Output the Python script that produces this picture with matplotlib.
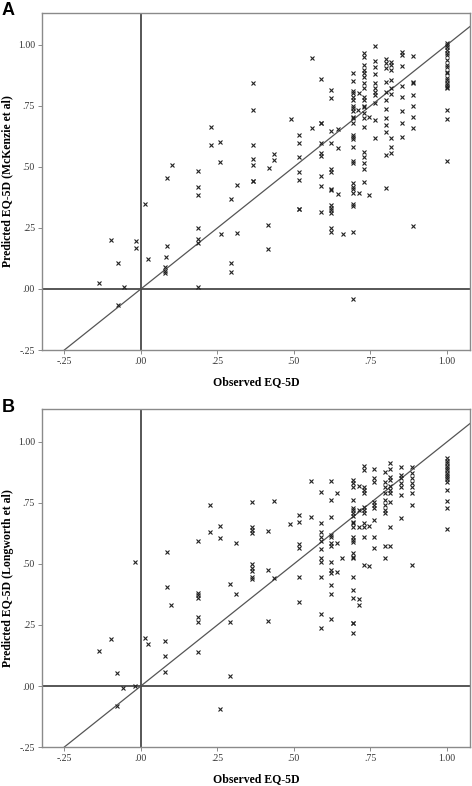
import matplotlib
matplotlib.use("Agg")

import matplotlib.pyplot as plt
import matplotlib as mpl
from matplotlib.ticker import FixedLocator, FuncFormatter

# =========================================================
# 0) data (read off the figure)
# =========================================================
# Panel A - McKenzie et al
obs_a = [
    0.558, 0.365, 0.365, 0.229, 0.229, 0.26, 0.26, 0.365, 0.365, 0.365, 0.365, 0.365,
    0.418, 0.435, 0.435, 0.49, 0.517, 0.517, 0.517, 0.517, 0.517, 0.558,
    0.589, 0.589, 0.589, 0.589, 0.589, 0.589, 0.589, 0.589,
    0.623, 0.623, 0.623, 0.623, 0.623, 0.623, 0.623, 0.623, 0.643, 0.643, 0.643,
    0.692, 0.692, 0.692, 0.692, 0.692, 0.692, 0.692, 0.692, 0.692, 0.692, 0.692, 0.692, 0.692,
    0.692, 0.692, 0.692, 0.692, 0.692, 0.692, 0.692, 0.692, 0.692, 0.692, 0.692, 0.692, 0.692,
    0.708, 0.713, 0.713,
    0.73, 0.73, 0.73, 0.73, 0.73, 0.73, 0.73, 0.73, 0.73, 0.73,
    0.73, 0.73, 0.73, 0.73, 0.73, 0.73, 0.73, 0.73, 0.73, 0.73,
    0.746, 0.746,
    0.765, 0.765, 0.765, 0.765, 0.765, 0.765, 0.765, 0.765, 0.765, 0.765, 0.765,
    0.80, 0.80, 0.80, 0.80, 0.80, 0.80, 0.80, 0.80, 0.80, 0.80, 0.80, 0.80,
    0.817, 0.817, 0.817, 0.817, 0.817, 0.817, 0.817, 0.817, 0.817,
    0.852, 0.852, 0.852, 0.852, 0.852, 0.852, 0.852, 0.852,
    0.888, 0.888, 0.888, 0.888, 0.888, 0.888, 0.888, 0.888,
    1.0, 1.0, 1.0, 1.0, 1.0, 1.0, 1.0, 1.0, 1.0, 1.0,
    1.0, 1.0, 1.0, 1.0, 1.0, 1.0, 1.0, 1.0, 1.0, 1.0,
    0.087, 0.101, 0.187, 0.187, 0.187, 0.313, 0.293, 0.013, 0.187, 0.187, 0.187, 0.087,
    -0.096, -0.016, -0.016, 0.024, 0.082, 0.078, 0.078, 0.078, -0.074, -0.137, -0.056,
    -0.074, 0.187, 0.261, 0.313, 0.293, 0.293, 0.417, 0.417, 0.517, 0.517, 0.589,
    0.623, 0.623, 0.623, 0.623, 0.623, 0.623, 0.659,
]
pred_a = [
    0.945, 0.844, 0.734, 0.665, 0.589, 0.601, 0.52, 0.589, 0.534, 0.507, 0.443, 0.443,
    0.497, 0.552, 0.529, 0.698, 0.632, 0.597, 0.542, 0.481, 0.445, 0.661,
    0.859, 0.682, 0.682, 0.597, 0.556, 0.545, 0.463, 0.422,
    0.816, 0.784, 0.649, 0.597, 0.49, 0.48, 0.41, 0.405, 0.656, 0.579, 0.388,
    0.887, 0.851, 0.813, 0.802, 0.788, 0.775, 0.75, 0.74, 0.73, 0.706, 0.70, 0.682, 0.631,
    0.624, 0.613, 0.583, 0.523, 0.515, 0.433, 0.419, 0.409, 0.395, 0.348, 0.341, 0.232, -0.041,
    0.734, 0.805, 0.392,
    0.966, 0.952, 0.918, 0.898, 0.884, 0.87, 0.843, 0.823, 0.788, 0.775,
    0.75, 0.745, 0.723, 0.70, 0.665, 0.563, 0.542, 0.518, 0.49, 0.44,
    0.704, 0.385,
    0.997, 0.934, 0.911, 0.881, 0.846, 0.823, 0.809, 0.795, 0.761, 0.693, 0.618,
    0.941, 0.925, 0.905, 0.85, 0.809, 0.775, 0.736, 0.70, 0.672, 0.645, 0.549, 0.413,
    0.932, 0.918, 0.898, 0.857, 0.823, 0.798, 0.62, 0.583, 0.556,
    0.973, 0.959, 0.914, 0.832, 0.786, 0.73, 0.679, 0.624,
    0.955, 0.85, 0.843, 0.795, 0.751, 0.706, 0.661, 0.257,
    1.007, 1.0, 0.993, 0.98, 0.966, 0.959, 0.939, 0.918, 0.911, 0.891,
    0.884, 0.863, 0.857, 0.843, 0.836, 0.829, 0.823, 0.734, 0.697, 0.526,
    0.456, 0.507, 0.485, 0.417, 0.385, 0.425, 0.368, 0.347, 0.249, 0.204, 0.19, 0.176,
    0.202, 0.198, 0.169, 0.123, 0.13, 0.089, 0.075, 0.067, 0.107, 0.023, 0.008,
    -0.064, 0.007, 0.227, 0.228, 0.107, 0.07, 0.264, 0.165, 0.327, 0.327, 0.316,
    0.344, 0.331, 0.324, 0.31, 0.249, 0.235, 0.224,
]

# Panel B - Longworth et al
obs_b = [
    -0.018, 0.086, 0.186, 0.227, 0.227, 0.26, 0.26, 0.312, 0.364, 0.364, 0.364, 0.364,
    0.364, 0.364, 0.364, 0.364, 0.414, 0.414, 0.434, 0.434, 0.486, 0.517, 0.517, 0.517,
    0.517, 0.517, 0.556, 0.556,
    0.589, 0.589, 0.589, 0.589, 0.589, 0.589, 0.589, 0.589, 0.589,
    0.622, 0.622, 0.622, 0.622, 0.622, 0.622, 0.622, 0.622, 0.622, 0.622,
    0.641, 0.641, 0.641, 0.657,
    0.692, 0.692, 0.692, 0.692, 0.692, 0.692, 0.692, 0.692, 0.692, 0.692, 0.692, 0.692,
    0.692, 0.692, 0.692, 0.692, 0.692, 0.692, 0.692, 0.692, 0.692, 0.692, 0.692,
    0.712, 0.712, 0.712, 0.712, 0.712,
    0.728, 0.728, 0.728, 0.728, 0.728, 0.728, 0.728, 0.728, 0.728, 0.728, 0.728, 0.728,
    0.745, 0.745,
    0.763, 0.763, 0.763, 0.763, 0.763, 0.763, 0.763, 0.763, 0.763,
    0.799, 0.799, 0.799, 0.799, 0.799, 0.799, 0.799, 0.799, 0.799, 0.799,
    0.815, 0.815, 0.815, 0.815, 0.815, 0.815, 0.815, 0.815, 0.815, 0.815,
    0.851, 0.851, 0.851, 0.851, 0.851, 0.851, 0.851,
    0.886, 0.886, 0.886, 0.886, 0.886, 0.886, 0.886, 0.886,
    1.0, 1.0, 1.0, 1.0, 1.0, 1.0, 1.0, 1.0, 1.0, 1.0, 1.0, 1.0, 1.0, 1.0, 1.0,
    0.364, 0.086, 0.099, 0.187, 0.187, 0.187, 0.187, 0.187, 0.292, 0.312, 0.292, 0.416,
    0.517, 0.589, 0.589, 0.622, 0.622, 0.622, 0.187, 0.023, 0.012, 0.078, 0.078, 0.078,
    0.292, -0.097, -0.137, -0.078, -0.058, -0.02, -0.078, 0.26,
]
pred_b = [
    0.507, 0.55, 0.594, 0.742, 0.63, 0.657, 0.607, 0.587, 0.753, 0.653, 0.639, 0.628,
    0.499, 0.485, 0.471, 0.448, 0.635, 0.475, 0.757, 0.443, 0.663, 0.701, 0.673, 0.581,
    0.564, 0.446, 0.84, 0.691,
    0.795, 0.667, 0.632, 0.612, 0.594, 0.56, 0.523, 0.51, 0.446,
    0.841, 0.762, 0.691, 0.619, 0.612, 0.585, 0.574, 0.51, 0.475, 0.464,
    0.792, 0.585, 0.468, 0.523,
    0.844, 0.831, 0.817, 0.762, 0.728, 0.721, 0.71, 0.697, 0.673, 0.667, 0.653, 0.612,
    0.598, 0.592, 0.546, 0.53, 0.523, 0.448, 0.393, 0.359, 0.257, 0.257, 0.216,
    0.82, 0.721, 0.653, 0.355, 0.332,
    0.902, 0.885, 0.817, 0.803, 0.79, 0.735, 0.721, 0.708, 0.667, 0.653, 0.612, 0.496,
    0.657, 0.492,
    0.888, 0.851, 0.837, 0.755, 0.742, 0.728, 0.68, 0.612, 0.564,
    0.878, 0.837, 0.817, 0.79, 0.762, 0.742, 0.721, 0.71, 0.574, 0.523,
    0.915, 0.888, 0.858, 0.844, 0.82, 0.803, 0.79, 0.755, 0.653, 0.574,
    0.899, 0.865, 0.851, 0.831, 0.817, 0.783, 0.687,
    0.899, 0.872, 0.851, 0.831, 0.817, 0.79, 0.742, 0.496,
    0.933, 0.922, 0.913, 0.902, 0.892, 0.885, 0.874, 0.865, 0.858, 0.847, 0.837, 0.803,
    0.759, 0.728, 0.642,
    0.437, 0.404, 0.332, 0.38, 0.373, 0.359, 0.284, 0.264, 0.418, 0.376, 0.264, 0.268,
    0.343, 0.294, 0.236, 0.414, 0.376, 0.275, 0.141, 0.172, 0.195, 0.184, 0.123, 0.059,
    0.041, 0.193, 0.142, 0.052, -0.01, 0.0, -0.082, -0.093,
]

ticks = [-0.25, 0.0, 0.25, 0.50, 0.75, 1.00]

# =========================================================
# 1) style
# =========================================================
mpl.rcParams["font.family"] = ["Liberation Serif", "DejaVu Serif"]
frame_col = "#8a8a8a"
ink = "#222222"


def spss_fmt(v, pos=None):
    s = f"{v:.2f}"
    return s.replace("0.", ".", 1) if abs(v) < 1 else s


def draw_panel(ax, obs, pred, ylabel, ytop):
    ax.set_xlim(-0.323, 1.076)
    ax.set_ylim(-0.25, ytop)

    # reference lines
    ax.axhline(0, color="#3a3a3a", lw=1.2, zorder=1)
    ax.axvline(0, color="#3a3a3a", lw=1.2, zorder=1)
    ax.plot([-0.25, 1.076], [-0.25, 1.076], color="#555555", lw=0.9, zorder=1)

    ax.plot(obs, pred, linestyle="none", marker="x", ms=3.4, mew=0.8,
            color=ink, zorder=2)

    for side in ax.spines.values():
        side.set_color(frame_col)
        side.set_linewidth(1.0)

    ax.xaxis.set_major_locator(FixedLocator(ticks))
    ax.yaxis.set_major_locator(FixedLocator(ticks))
    ax.xaxis.set_major_formatter(FuncFormatter(spss_fmt))
    ax.yaxis.set_major_formatter(FuncFormatter(spss_fmt))
    ax.tick_params(direction="out", length=3, width=0.7, color=frame_col,
                   labelsize=7, labelcolor="#333333", pad=2)

    ax.set_xlabel("Observed EQ-5D", fontsize=8.5, fontweight="bold", labelpad=7)
    ax.set_ylabel(ylabel, fontsize=8.5, fontweight="bold", labelpad=3)


# =========================================================
# 2) figure
# =========================================================
fig = plt.figure(figsize=(4.72, 7.86), dpi=100)
ax_a = fig.add_axes([0.089, 0.5547, 0.907, 0.4288])
ax_b = fig.add_axes([0.089, 0.0496, 0.907, 0.4300])

draw_panel(ax_a, obs_a, pred_a, "Predicted EQ-5D (McKenzie et al)", 1.131)
draw_panel(ax_b, obs_b, pred_b, "Predicted EQ-5D (Longworth et al)", 1.135)

fig.text(0.004, 0.998, "A", fontsize=13, fontweight="bold", va="top", ha="left",
         family=["Liberation Sans", "DejaVu Sans"])
fig.text(0.004, 0.493, "B", fontsize=13, fontweight="bold", va="top", ha="left",
         family=["Liberation Sans", "DejaVu Sans"])

fig.savefig("out.png", dpi=100, facecolor="white")
plt.close(fig)
